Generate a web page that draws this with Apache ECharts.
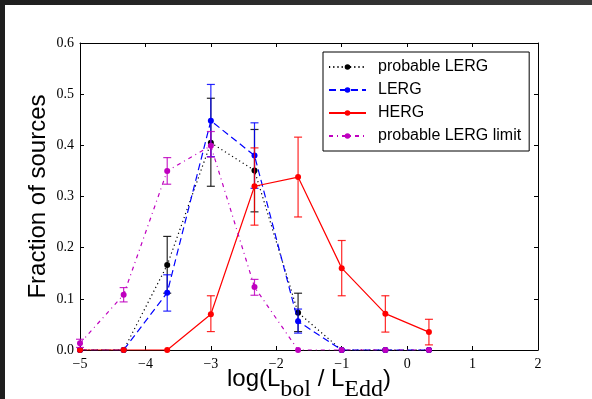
<!DOCTYPE html>
<html><head><meta charset="utf-8">
<script src="https://cdn.jsdelivr.net/npm/echarts@6/dist/echarts.min.js"></script>
<style>html,body{margin:0;padding:0;background:#fff}#c{width:592px;height:399px}</style>
</head><body><div id="c"></div>
<script>
const bins = [-5, -4.333, -3.667, -3, -2.333, -1.667, -1, -0.333, 0.333];
const xTicks = [-5, -4, -3, -2, -1, 0, 1, 2];
const yTicks = [0, 0.1, 0.2, 0.3, 0.4, 0.5, 0.6];

const probLERG   = [0, 0, 0.166, 0.405, 0.351, 0.073, 0, 0, 0];
const probLERGLo = [0, 0, 0.111, 0.320, 0.270, 0.036, 0, 0, 0];
const probLERGHi = [0, 0, 0.222, 0.492, 0.431, 0.111, 0, 0, 0];

const lerg   = [0, 0, 0.112, 0.448, 0.380, 0.056, 0, 0, 0];
const lergLo = [0, 0, 0.076, 0.378, 0.316, 0.033, 0, 0, 0];
const lergHi = [0, 0, 0.147, 0.519, 0.444, 0.080, 0, 0, 0];

const herg   = [0, 0, 0, 0.070, 0.320, 0.338, 0.160, 0.071, 0.035];
const hergLo = [0, 0, 0, 0.036, 0.244, 0.260, 0.106, 0.035, 0.010];
const hergHi = [0, 0, 0, 0.106, 0.395, 0.416, 0.214, 0.106, 0.060];

const limit   = [0.013, 0.108, 0.350, 0.399, 0.123, 0, 0, 0, 0];
const limitLo = [0.005, 0.094, 0.324, 0.377, 0.107, 0, 0, 0, 0];
const limitHi = [0.021, 0.122, 0.376, 0.427, 0.138, 0, 0, 0, 0];

const names = ['probable LERG', 'LERG', 'HERG', 'probable LERG limit'];
const colors = ['#000000', '#0000ff', '#ff0000', '#bf00bf'];
const dashes = [[1.2, 3], [7, 4], 'solid', [4, 4, 1, 4]];
const vals = [probLERG, lerg, herg, limit];
const los = [probLERGLo, lergLo, hergLo, limitLo];
const his = [probLERGHi, lergHi, hergHi, limitHi];

const chart = echarts.init(document.getElementById('c'));
const serif = 'Liberation Serif';
const sans = 'Liberation Sans';

function errSeries(i) {
  const data = [];
  bins.forEach((x, k) => { if (his[i][k] > los[i][k]) data.push([x, los[i][k], his[i][k]]); });
  return {
    type: 'custom', name: names[i] + ' err', xAxisIndex: 0, yAxisIndex: 0, z: 2 + i,
    data: data,
    renderItem: function (params, api) {
      const a = api.coord([api.value(0), api.value(1)]);
      const b = api.coord([api.value(0), api.value(2)]);
      const w = 4;
      const st = { stroke: colors[i], lineWidth: 1.2, opacity: 0.85 };
      return { type: 'group', children: [
        { type: 'line', shape: { x1: a[0], y1: a[1], x2: b[0], y2: b[1] }, style: st },
        { type: 'line', shape: { x1: a[0] - w, y1: a[1], x2: a[0] + w, y2: a[1] }, style: st },
        { type: 'line', shape: { x1: b[0] - w, y1: b[1], x2: b[0] + w, y2: b[1] }, style: st }
      ] };
    }
  };
}

const series = [];
names.forEach((n, i) => {
  series.push({
    type: 'line', name: n, xAxisIndex: 0, yAxisIndex: 0, z: 2 + i,
    data: bins.map((x, k) => [x, vals[i][k]]),
    symbol: 'circle', symbolSize: 6, showSymbol: true,
    itemStyle: { color: colors[i] },
    lineStyle: { color: colors[i], width: 1.2, type: dashes[i] },
    animation: false
  });
  series.push(errSeries(i));
});

const axisCommon = {
  type: 'value',
  axisLine: { show: true, onZero: false, lineStyle: { color: '#000', width: 1 } },
  axisTick: { show: true, inside: true, length: 4, lineStyle: { color: '#000' } },
  splitLine: { show: false }
};

chart.setOption({
  animation: false,
  backgroundColor: '#fff',
  grid: { left: 80, right: 54, top: 43, bottom: 49, containLabel: false, outerBoundsMode: 'none' },
  graphic: [
    { type: 'rect', shape: { x: 0, y: 0, width: 592, height: 5 }, style: { fill: new echarts.graphic.LinearGradient(0, 0, 1, 0, [{ offset: 0, color: '#1e1e1e' }, { offset: 1, color: '#3c3c3c' }]) }, z: 100 },
    { type: 'rect', shape: { x: 0, y: 0, width: 5, height: 399 }, style: { fill: '#1e1e1e' }, z: 100 }
  ],
  legend: {
    data: names, orient: 'vertical', left: 323, top: 52,
    backgroundColor: '#fff', borderColor: '#000', borderWidth: 1, borderRadius: 0,
    padding: [6, 8, 6, 5], itemWidth: 37, itemHeight: 7, itemGap: 5,
    textStyle: { fontFamily: sans, fontSize: 16, color: '#000', lineHeight: 18, padding: [0, 0, 0, 7] }
  },
  xAxis: [
    Object.assign({}, axisCommon, {
      position: 'bottom', min: -5, max: 2, interval: 1,
      axisLabel: { fontFamily: serif, fontSize: 14, color: '#000', margin: 7,
        formatter: v => String(v).replace('-', '\u2212') },
      name: '{m|log(L}{s|bol}{m| / L}{s|Edd}{m|)}', nameLocation: 'middle', nameGap: 17,
      nameMoveOverlap: false,
      nameTextStyle: { rich: {
        m: { fontFamily: sans, fontSize: 24, color: '#000', lineHeight: 24, verticalAlign: 'top' },
        s: { fontFamily: serif, fontSize: 24, color: '#000', lineHeight: 35, verticalAlign: 'bottom' }
      } }
    }),
    Object.assign({}, axisCommon, { position: 'top', min: -5, max: 2, interval: 1, axisLabel: { show: false } })
  ],
  yAxis: [
    Object.assign({}, axisCommon, {
      position: 'left', min: 0, max: 0.6, interval: 0.1,
      axisLabel: { fontFamily: serif, fontSize: 14, color: '#000', margin: 6, formatter: v => v.toFixed(1) },
      name: 'Fraction of sources', nameLocation: 'middle', nameRotate: 90, nameGap: 30,
      nameMoveOverlap: false,
      nameTextStyle: { fontFamily: sans, fontSize: 24, color: '#000' }
    }),
    Object.assign({}, axisCommon, { position: 'right', min: 0, max: 0.6, interval: 0.1, axisLabel: { show: false } })
  ],
  series: series
});
</script></body></html>
